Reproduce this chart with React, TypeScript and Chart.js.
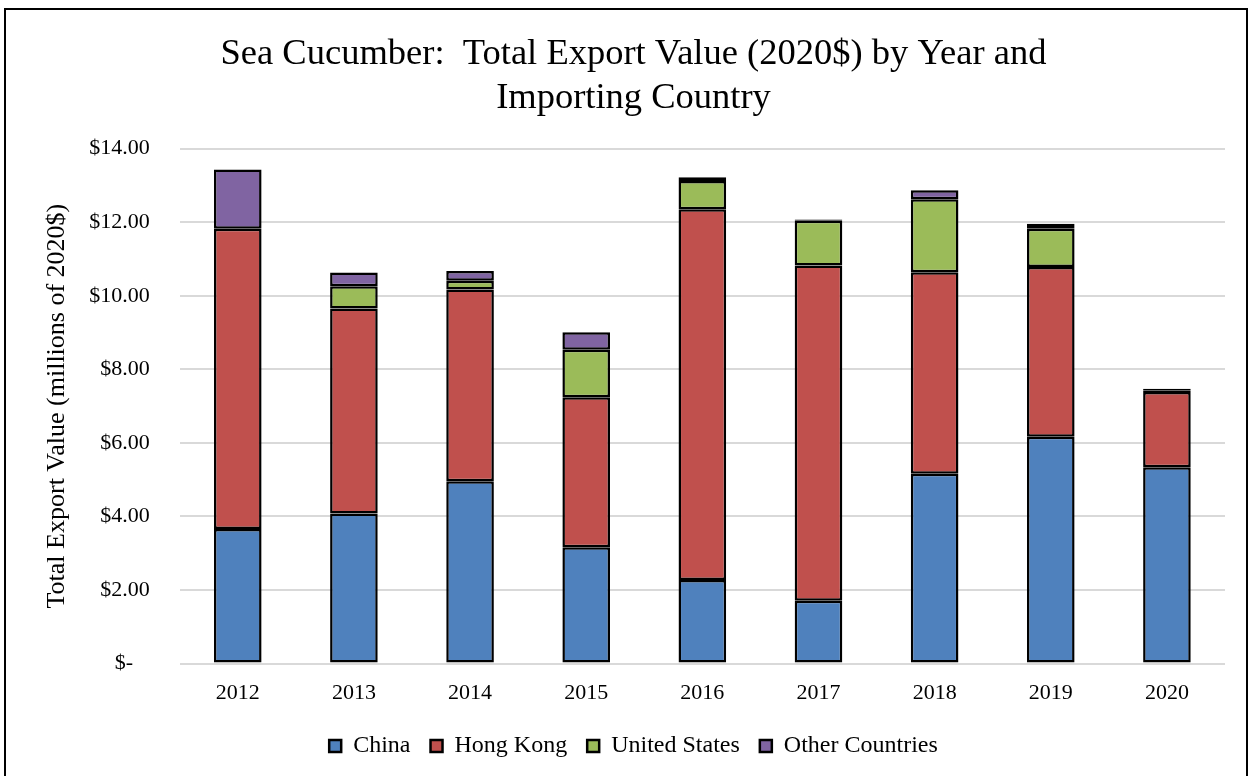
import React, { useEffect, useRef } from "react";
import { Chart, registerables } from "chart.js";

Chart.register(...registerables);

const years = ["2012", "2013", "2014", "2015", "2016", "2017", "2018", "2019", "2020"];
const china = [3.66, 4.08, 4.96, 3.16, 2.27, 1.71, 5.16, 6.17, 5.34];
const hongKong = [8.16, 5.57, 5.21, 4.08, 10.08, 9.11, 5.48, 4.61, 2.04];
const unitedStates = [0.0, 0.61, 0.24, 1.29, 0.77, 1.22, 1.98, 1.04, 0.05];
const otherCountries = [1.61, 0.37, 0.26, 0.48, 0.1, 0.03, 0.25, 0.14, 0.04];
const yTicks = [0, 2, 4, 6, 8, 10, 12, 14];

const FONT = "'Liberation Serif', 'Times New Roman', serif";

export default function App() {
  const ref = useRef<HTMLCanvasElement | null>(null);
  useEffect(() => {
    if (!ref.current) return;
    const mk = (label: string, data: number[], color: string) => ({
      label,
      data,
      backgroundColor: color,
      borderColor: "#000000",
      borderWidth: 2.5,
      borderSkipped: false as const,
      inflateAmount: 0,
      barPercentage: 0.41,
      categoryPercentage: 1.0,
    });
    const chart = new Chart(ref.current, {
      type: "bar",
      data: {
        labels: years,
        datasets: [
          mk("China", china, "#4f81bd"),
          mk("Hong Kong", hongKong, "#c0504d"),
          mk("United States", unitedStates, "#9bbb59"),
          mk("Other Countries", otherCountries, "#8064a2"),
        ],
      },
      options: {
        animation: false,
        responsive: false,
        maintainAspectRatio: false,
        layout: { padding: { left: 42, right: 28, top: 8, bottom: 8 } },
        plugins: {
          title: {
            display: true,
            text: ["Sea Cucumber:  Total Export Value (2020$) by Year and", "Importing Country"],
            color: "#000",
            font: { family: FONT, size: 36.5, weight: "normal" },
            lineHeight: 1.25,
            padding: { top: 25, bottom: 28 },
          },
          legend: {
            position: "bottom",
            labels: {
              color: "#000",
              font: { family: FONT, size: 24 },
              boxWidth: 12,
              boxHeight: 12,
              padding: 20,
            },
          },
          tooltip: { enabled: false },
        },
        scales: {
          x: {
            stacked: true,
            grid: { display: false },
            border: { display: false },
            ticks: { color: "#000", font: { family: FONT, size: 22 }, padding: 8 },
          },
          y: {
            stacked: true,
            min: 0,
            max: 14,
            afterBuildTicks: (axis: any) => {
              axis.ticks = yTicks.map((v) => ({ value: v }));
            },
            grid: { color: "#d9d9d9", lineWidth: 2, drawTicks: false },
            border: { display: false },
            ticks: {
              color: "#000",
              font: { family: FONT, size: 22 },
              padding: 30,
              callback: (v: any) => (Number(v) === 0 ? "$-   " : "$" + Number(v).toFixed(2)),
            },
            title: {
              display: true,
              text: "Total Export Value (millions of 2020$)",
              color: "#000",
              font: { family: FONT, size: 26 },
              padding: { top: 0, bottom: -14 },
            },
          },
        },
      },
    });
    return () => chart.destroy();
  }, []);
  return (
    <div style={{ position: "fixed", left: 0, top: 0, width: 1253, height: 776, background: "#fff" }}>
      <canvas ref={ref} width={1253} height={776} style={{ position: "absolute", left: 0, top: 0, width: 1253, height: 776 }} />
      <div
        style={{
          position: "absolute",
          left: 4,
          top: 8,
          width: 1244,
          height: 780,
          border: "2px solid #000",
          boxSizing: "border-box",
          pointerEvents: "none",
        }}
      />
    </div>
  );
}
